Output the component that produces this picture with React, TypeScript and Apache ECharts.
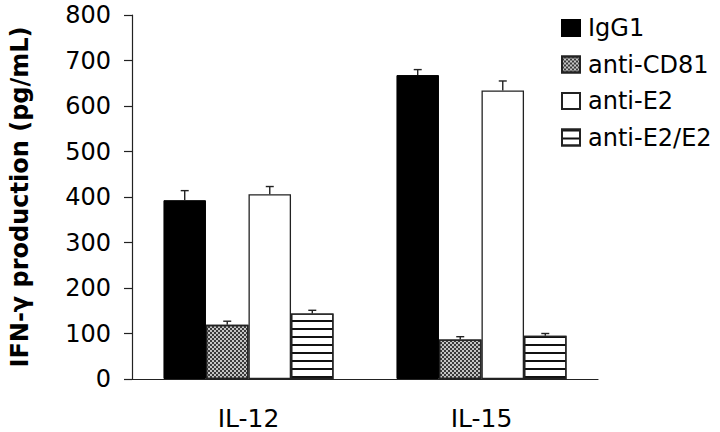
import React, { useEffect, useRef } from "react";
import * as echarts from "echarts";

const categories = ["IL-12", "IL-15"];
const seriesNames = ["IgG1", "anti-CD81", "anti-E2", "anti-E2/E2"];
const igg1 = [393, 668];
const antiCD81 = [119, 87];
const antiE2 = [406, 634];
const antiE2E2 = [144, 95];
const igg1Err = [21, 12];
const antiCD81Err = [8, 6];
const antiE2Err = [17, 21];
const antiE2E2Err = [7, 5];
const yTicks = { min: 0, max: 800, interval: 100 };

const CAT_GAP = 0.27;

export default function App() {
  const ref = useRef<HTMLDivElement>(null);
  useEffect(() => {
    if (!ref.current) return;
    const chart = echarts.init(ref.current, null, { renderer: "svg" });
    const values = [igg1, antiCD81, antiE2, antiE2E2];
    const errs = [igg1Err, antiCD81Err, antiE2Err, antiE2E2Err];
    const errData: number[][] = [];
    values.forEach((vals, s) => {
      vals.forEach((v, c) => {
        errData.push([c, v, errs[s][c], s]);
      });
    });
    const font = "DejaVu Sans";
    const border = { borderColor: "#222", borderWidth: 1.3 };
    const styles: any[] = [
      { color: "#000", borderColor: "#000", borderWidth: 1 },
      {
        color: "#c4c4c4",
        ...border,
        decal: {
          symbol: "rect",
          symbolSize: 1,
          color: "#3a3a3a",
          dashArrayX: [[2, 2], [0, 2, 2, 0]],
          dashArrayY: [2, 0],
          rotation: 0,
        },
      },
      { color: "#fff", ...border },
      {
        color: "#fff",
        ...border,
        decal: {
          symbol: "rect",
          symbolSize: 1,
          color: "#111",
          dashArrayX: [1, 0],
          dashArrayY: [1.5, 5.2],
          rotation: 0,
        },
      },
    ];
    const option: any = {
      animation: false,
      backgroundColor: "#fff",
      grid: { left: 131, right: 122, top: 15, bottom: 53 },
      legend: {
        data: seriesNames,
        orient: "vertical",
        left: 556,
        top: 11,
        itemWidth: 18,
        itemHeight: 16,
        itemGap: 12.5,
        icon: "rect",
        textStyle: { fontFamily: font, fontSize: 24, color: "#000", padding: [0, 0, 0, 3] },
      },
      xAxis: {
        type: "category",
        data: categories,
        axisLine: { lineStyle: { color: "#222", width: 1.2 } },
        axisTick: { show: false },
        axisLabel: { fontFamily: font, fontSize: 25, color: "#000", margin: 27 },
        splitLine: { show: false },
      },
      yAxis: {
        type: "value",
        min: yTicks.min,
        max: yTicks.max,
        interval: yTicks.interval,
        name: "IFN-γ production (pg/mL)",
        nameLocation: "middle",
        nameGap: 100,
        nameTextStyle: { fontFamily: font, fontSize: 24, fontWeight: "bold", color: "#000" },
        axisLine: { show: true, lineStyle: { color: "#222", width: 1.2 } },
        axisTick: { show: true, length: 8, lineStyle: { color: "#222", width: 1.2 } },
        axisLabel: { fontFamily: font, fontSize: 24, color: "#000", margin: 21 },
        splitLine: { show: false },
      },
      series: [
        ...seriesNames.map((name, i) => ({
          name,
          type: "bar",
          data: values[i],
          barGap: "0%",
          barCategoryGap: CAT_GAP * 100 + "%",
          itemStyle: styles[i],
        })),
        {
          type: "custom",
          name: "err",
          data: errData,
          z: 10,
          encode: { x: 0, y: 1 },
          renderItem: (params: any, api: any) => {
            const c = api.value(0);
            const v = api.value(1);
            const e = api.value(2);
            const s = api.value(3);
            const band = api.size([1, 0])[0];
            const bw = (band * (1 - CAT_GAP)) / 4;
            const base = api.coord([c, v]);
            const top = api.coord([c, v + e]);
            const x = base[0] + (s - 1.5) * bw;
            const st = { stroke: "#222", lineWidth: 1.4 };
            return {
              type: "group",
              children: [
                { type: "line", shape: { x1: x, y1: base[1], x2: x, y2: top[1] }, style: st },
                { type: "line", shape: { x1: x - 4, y1: top[1], x2: x + 4, y2: top[1] }, style: st },
              ],
            };
          },
        },
      ],
    };
    chart.setOption(option);
    return () => chart.dispose();
  }, []);
  return <div ref={ref} style={{ width: 720, height: 432, position: "absolute", left: 0, top: 0 }} />;
}
